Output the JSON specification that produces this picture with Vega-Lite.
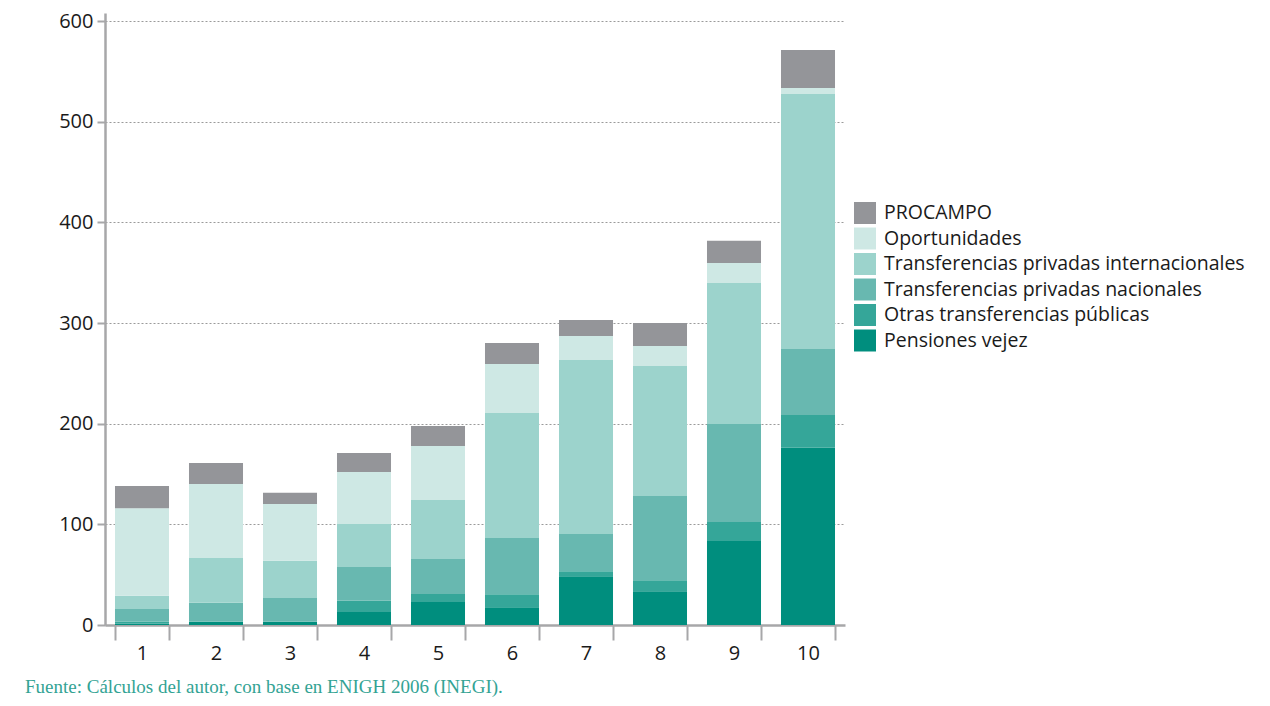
{
  "$schema": "https://vega.github.io/schema/vega-lite/v6.json",
  "width": 740,
  "height": 612,
  "autosize": {"type": "none"},
  "padding": {"left": 105, "top": 13, "right": 425, "bottom": 81},
  "background": "white",
  "config": {"view": {"stroke": null}, "font": "Open Sans"},
  "title": {
    "text": "Fuente: Cálculos del autor, con base en ENIGH 2006 (INEGI).",
    "orient": "bottom",
    "anchor": "start",
    "frame": "group",
    "dx": -80,
    "offset": 15,
    "font": "Liberation Serif",
    "fontSize": 19,
    "fontWeight": "normal",
    "color": "#33a394"
  },
  "data": {
    "values": [
      {"decil": 1, "tipo": "Pensiones vejez", "orden": 1, "valor": 1.5},
      {"decil": 1, "tipo": "Otras transferencias públicas", "orden": 2, "valor": 2},
      {"decil": 1, "tipo": "Transferencias privadas nacionales", "orden": 3, "valor": 12.5},
      {"decil": 1, "tipo": "Transferencias privadas internacionales", "orden": 4, "valor": 13},
      {"decil": 1, "tipo": "Oportunidades", "orden": 5, "valor": 87},
      {"decil": 1, "tipo": "PROCAMPO", "orden": 6, "valor": 22},
      {"decil": 2, "tipo": "Pensiones vejez", "orden": 1, "valor": 3},
      {"decil": 2, "tipo": "Otras transferencias públicas", "orden": 2, "valor": 0.5},
      {"decil": 2, "tipo": "Transferencias privadas nacionales", "orden": 3, "valor": 18.5},
      {"decil": 2, "tipo": "Transferencias privadas internacionales", "orden": 4, "valor": 44.5},
      {"decil": 2, "tipo": "Oportunidades", "orden": 5, "valor": 73.5},
      {"decil": 2, "tipo": "PROCAMPO", "orden": 6, "valor": 21},
      {"decil": 3, "tipo": "Pensiones vejez", "orden": 1, "valor": 3},
      {"decil": 3, "tipo": "Otras transferencias públicas", "orden": 2, "valor": 0.5},
      {"decil": 3, "tipo": "Transferencias privadas nacionales", "orden": 3, "valor": 23.3},
      {"decil": 3, "tipo": "Transferencias privadas internacionales", "orden": 4, "valor": 37},
      {"decil": 3, "tipo": "Oportunidades", "orden": 5, "valor": 56.5},
      {"decil": 3, "tipo": "PROCAMPO", "orden": 6, "valor": 11},
      {"decil": 4, "tipo": "Pensiones vejez", "orden": 1, "valor": 13},
      {"decil": 4, "tipo": "Otras transferencias públicas", "orden": 2, "valor": 11},
      {"decil": 4, "tipo": "Transferencias privadas nacionales", "orden": 3, "valor": 33.7},
      {"decil": 4, "tipo": "Transferencias privadas internacionales", "orden": 4, "valor": 42.6},
      {"decil": 4, "tipo": "Oportunidades", "orden": 5, "valor": 51.7},
      {"decil": 4, "tipo": "PROCAMPO", "orden": 6, "valor": 19},
      {"decil": 5, "tipo": "Pensiones vejez", "orden": 1, "valor": 22.8},
      {"decil": 5, "tipo": "Otras transferencias públicas", "orden": 2, "valor": 8},
      {"decil": 5, "tipo": "Transferencias privadas nacionales", "orden": 3, "valor": 34.8},
      {"decil": 5, "tipo": "Transferencias privadas internacionales", "orden": 4, "valor": 58.6},
      {"decil": 5, "tipo": "Oportunidades", "orden": 5, "valor": 53.6},
      {"decil": 5, "tipo": "PROCAMPO", "orden": 6, "valor": 20},
      {"decil": 6, "tipo": "Pensiones vejez", "orden": 1, "valor": 17.6},
      {"decil": 6, "tipo": "Otras transferencias públicas", "orden": 2, "valor": 13},
      {"decil": 6, "tipo": "Transferencias privadas nacionales", "orden": 3, "valor": 55.8},
      {"decil": 6, "tipo": "Transferencias privadas internacionales", "orden": 4, "valor": 124.2},
      {"decil": 6, "tipo": "Oportunidades", "orden": 5, "valor": 48.7},
      {"decil": 6, "tipo": "PROCAMPO", "orden": 6, "valor": 20.8},
      {"decil": 7, "tipo": "Pensiones vejez", "orden": 1, "valor": 48.5},
      {"decil": 7, "tipo": "Otras transferencias públicas", "orden": 2, "valor": 5},
      {"decil": 7, "tipo": "Transferencias privadas nacionales", "orden": 3, "valor": 36.9},
      {"decil": 7, "tipo": "Transferencias privadas internacionales", "orden": 4, "valor": 172.8},
      {"decil": 7, "tipo": "Oportunidades", "orden": 5, "valor": 23.9},
      {"decil": 7, "tipo": "PROCAMPO", "orden": 6, "valor": 15.9},
      {"decil": 8, "tipo": "Pensiones vejez", "orden": 1, "valor": 33.6},
      {"decil": 8, "tipo": "Otras transferencias públicas", "orden": 2, "valor": 10.9},
      {"decil": 8, "tipo": "Transferencias privadas nacionales", "orden": 3, "valor": 83.7},
      {"decil": 8, "tipo": "Transferencias privadas internacionales", "orden": 4, "valor": 129.1},
      {"decil": 8, "tipo": "Oportunidades", "orden": 5, "valor": 19.9},
      {"decil": 8, "tipo": "PROCAMPO", "orden": 6, "valor": 22.8},
      {"decil": 9, "tipo": "Pensiones vejez", "orden": 1, "valor": 83.4},
      {"decil": 9, "tipo": "Otras transferencias públicas", "orden": 2, "valor": 18.9},
      {"decil": 9, "tipo": "Transferencias privadas nacionales", "orden": 3, "valor": 97.4},
      {"decil": 9, "tipo": "Transferencias privadas internacionales", "orden": 4, "valor": 140},
      {"decil": 9, "tipo": "Oportunidades", "orden": 5, "valor": 19.9},
      {"decil": 9, "tipo": "PROCAMPO", "orden": 6, "valor": 22.2},
      {"decil": 10, "tipo": "Pensiones vejez", "orden": 1, "valor": 176},
      {"decil": 10, "tipo": "Otras transferencias públicas", "orden": 2, "valor": 32.6},
      {"decil": 10, "tipo": "Transferencias privadas nacionales", "orden": 3, "valor": 65.6},
      {"decil": 10, "tipo": "Transferencias privadas internacionales", "orden": 4, "valor": 253.3},
      {"decil": 10, "tipo": "Oportunidades", "orden": 5, "valor": 5.9},
      {"decil": 10, "tipo": "PROCAMPO", "orden": 6, "valor": 37.8}
    ]
  },
  "mark": {"type": "bar"},
  "encoding": {
    "x": {
      "field": "decil",
      "type": "ordinal",
      "scale": {"paddingInner": 0.27, "paddingOuter": 0.135},
      "axis": {
        "title": null,
        "labelAngle": 0,
        "labelFontSize": 20,
        "labelColor": "#1a1a1a",
        "labelPadding": 3,
        "tickSize": 15,
        "tickWidth": 2,
        "tickColor": "#a7a7a9",
        "domainColor": "#a7a7a9",
        "domainWidth": 2.5,
        "tickBand": "extent",
        "grid": false
      }
    },
    "y": {
      "field": "valor",
      "type": "quantitative",
      "stack": "zero",
      "scale": {"domain": [0, 608], "nice": false},
      "axis": {
        "title": null,
        "values": [0, 100, 200, 300, 400, 500, 600],
        "labelFontSize": 20,
        "labelColor": "#1a1a1a",
        "labelPadding": 4,
        "tickSize": 8,
        "tickWidth": 2,
        "tickColor": "#a7a7a9",
        "domainColor": "#a7a7a9",
        "domainWidth": 2.5,
        "grid": true,
        "gridColor": "#9a9a9a",
        "gridDash": [2, 2],
        "gridWidth": 1
      }
    },
    "color": {
      "field": "tipo",
      "type": "nominal",
      "scale": {
        "domain": ["PROCAMPO", "Oportunidades", "Transferencias privadas internacionales", "Transferencias privadas nacionales", "Otras transferencias públicas", "Pensiones vejez"],
        "range": ["#949599", "#cee8e4", "#9cd3cc", "#68b8b0", "#35a699", "#008e7e"]
      },
      "legend": {
        "title": null,
        "orient": "none",
        "legendX": 749,
        "legendY": 189,
        "symbolType": "square",
        "symbolSize": 484,
        "symbolStrokeWidth": 0,
        "symbolOpacity": 1,
        "labelFontSize": 19.5,
        "labelOffset": 8,
        "rowPadding": 3.5,
        "labelColor": "#1a1a1a",
        "labelLimit": 500
      }
    },
    "order": {"field": "orden", "type": "quantitative"}
  }
}
